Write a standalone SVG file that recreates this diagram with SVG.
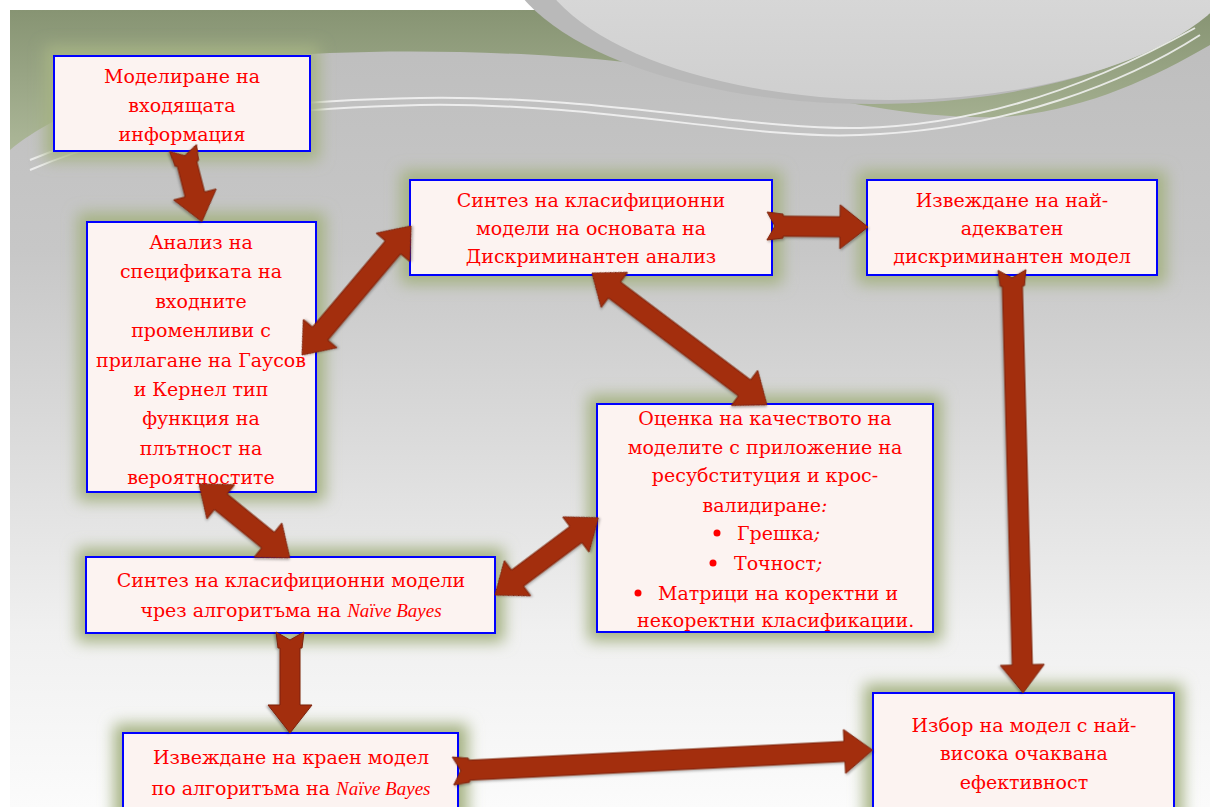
<svg xmlns="http://www.w3.org/2000/svg" width="1210" height="807" viewBox="0 0 1210 807">
  <defs>
    <linearGradient id="bgGrad" x1="0" y1="0" x2="0" y2="1">
      <stop offset="0" stop-color="#bdbdbd"/>
      <stop offset="0.3" stop-color="#c7c7c7"/>
      <stop offset="0.55" stop-color="#dcdcdc"/>
      <stop offset="0.78" stop-color="#f0f0f0"/>
      <stop offset="1" stop-color="#fbfbfb"/>
    </linearGradient>
    <linearGradient id="greenGrad" x1="0" y1="0" x2="0" y2="1">
      <stop offset="0" stop-color="#879473"/>
      <stop offset="1" stop-color="#acb798"/>
    </linearGradient>
    <linearGradient id="circleGrad" x1="0" y1="0" x2="0" y2="1">
      <stop offset="0" stop-color="#e8e8e8"/>
      <stop offset="1" stop-color="#cfcfcf"/>
    </linearGradient>
    <filter id="glow" x="-30%" y="-30%" width="160%" height="160%">
      <feGaussianBlur stdDeviation="7.5"/>
    </filter>
    <filter id="shadow" x="-10%" y="-10%" width="120%" height="120%">
      <feDropShadow dx="1" dy="1.5" stdDeviation="1.2" flood-color="#000" flood-opacity="0.3"/>
    </filter>
    <style>
      .glow { fill: #a5b283; filter: url(#glow); }
      .box { fill: #fcf3f1; stroke: #0000ff; stroke-width: 2; }
      .lbl { font-family: "DejaVu Serif", "Liberation Serif", serif; font-size: 19px; fill: #ff0000; text-anchor: middle; }
      .lft { text-anchor: start; }
      .nb { font-family: "Liberation Serif", serif; font-style: italic; font-size: 19px; }
      .arrow { fill: #a32f10; stroke: #7d2209; stroke-width: 1; filter: url(#shadow); }
      .swoosh { fill: none; stroke: #f4f4f4; stroke-width: 2; opacity: 0.85; }
    </style>
  </defs>

  <!-- page background -->
  <rect x="0" y="0" width="1210" height="807" fill="#ffffff"/>
  <rect x="10" y="10" width="1200" height="797" fill="url(#bgGrad)"/>
  <!-- green band across the top -->
  <path d="M10,10 L1210,10 L1210,45 C1150,80 1080,112 1000,117 C900,120 800,92 700,72 C600,55 450,48 330,53 C200,58 70,100 10,150 Z" fill="url(#greenGrad)"/>
  <!-- pale disc in the upper right -->
  <ellipse cx="872" cy="-58" rx="372" ry="162" fill="#b9b9b9"/>
  <ellipse cx="890" cy="-60" rx="360" ry="160" fill="url(#circleGrad)"/>
  <!-- thin white swooshes -->
  <path class="swoosh" d="M30,160 C150,110 300,100 420,98 C600,95 750,130 860,128 C1000,125 1120,70 1195,28"/>
  <path class="swoosh" d="M30,170 C150,118 300,108 420,105 C600,102 750,140 860,135 C1010,130 1130,80 1200,35"/>

  <!-- box glows -->
  <g id="glows">
    <rect class="glow" x="45" y="46" width="274" height="114"/>
    <rect class="glow" x="78" y="213" width="247" height="288"/>
    <rect class="glow" x="401" y="171" width="381" height="113"/>
    <rect class="glow" x="858" y="171" width="308" height="113"/>
    <rect class="glow" x="588" y="395" width="354" height="246"/>
    <rect class="glow" x="77" y="548" width="427" height="94"/>
    <rect class="glow" x="114" y="724" width="354" height="100"/>
    <rect class="glow" x="864" y="684" width="319" height="140"/>
  </g>

  <g id="n1">
    <rect class="box" x="54" y="56" width="256" height="95"/>
    <text class="lbl" x="182" y="83">Моделиране на</text>
    <text class="lbl" x="182" y="112">входящата</text>
    <text class="lbl" x="182" y="141">информация</text>
  </g>

  <g id="n2">
    <rect class="box" x="87" y="222" width="229" height="270"/>
    <text class="lbl" x="201" y="249">Анализ на</text>
    <text class="lbl" x="201" y="278">спецификата на</text>
    <text class="lbl" x="201" y="308">входните</text>
    <text class="lbl" x="201" y="337">променливи с</text>
    <text class="lbl" x="201" y="367">прилагане на Гаусов</text>
    <text class="lbl" x="201" y="396">и Кернел тип</text>
    <text class="lbl" x="201" y="425">функция на</text>
    <text class="lbl" x="201" y="455">плътност на</text>
    <text class="lbl" x="201" y="484">вероятностите</text>
  </g>

  <g id="n3">
    <rect class="box" x="410" y="180" width="362" height="95"/>
    <text class="lbl" x="591" y="207">Синтез на класифиционни</text>
    <text class="lbl" x="591" y="235">модели на основата на</text>
    <text class="lbl" x="591" y="263">Дискриминантен анализ</text>
  </g>

  <g id="n4">
    <rect class="box" x="867" y="180" width="290" height="95"/>
    <text class="lbl" x="1012" y="207">Извеждане на най-</text>
    <text class="lbl" x="1012" y="235">адекватен</text>
    <text class="lbl" x="1012" y="263">дискриминантен модел</text>
  </g>

  <g id="n5">
    <rect class="box" x="597" y="404" width="336" height="228"/>
    <text class="lbl" x="765" y="425">Оценка на качеството на</text>
    <text class="lbl" x="765" y="454">моделите с приложение на</text>
    <text class="lbl" x="765" y="482">ресубституция и крос-</text>
    <text class="lbl" x="765" y="512">валидиране<tspan font-style="italic">:</tspan></text>
    <circle cx="717" cy="533" r="3.5" fill="#ff0000"/>
    <text class="lbl lft" x="737" y="540">Грешка<tspan font-style="italic">;</tspan></text>
    <circle cx="713" cy="563" r="3.5" fill="#ff0000"/>
    <text class="lbl lft" x="734" y="570">Точност<tspan font-style="italic">;</tspan></text>
    <circle cx="638" cy="593" r="3.5" fill="#ff0000"/>
    <text class="lbl lft" x="658" y="600">Матрици на коректни и</text>
    <text class="lbl lft" x="637" y="627">некоректни класификации.</text>
  </g>

  <g id="n6">
    <rect class="box" x="86" y="557" width="409" height="76"/>
    <text class="lbl" x="291" y="587">Синтез на класифиционни модели</text>
    <text class="lbl" x="291" y="617">чрез алгоритъма на <tspan class="nb">Naïve Bayes</tspan></text>
  </g>

  <g id="n7">
    <rect class="box" x="123" y="733" width="335" height="90"/>
    <text class="lbl" x="291" y="764">Извеждане на краен модел</text>
    <text class="lbl" x="291" y="795">по алгоритъма на <tspan class="nb">Naïve Bayes</tspan></text>
  </g>

  <g id="n8">
    <rect class="box" x="873" y="693" width="301" height="130"/>
    <text class="lbl" x="1024" y="732">Избор на модел с най-</text>
    <text class="lbl" x="1024" y="760">висока очаквана</text>
    <text class="lbl" x="1024" y="789">ефективност</text>
  </g>

  <!-- block arrows, drawn along +x then placed -->
  <g id="connectors">
    <path class="arrow" transform="translate(183,148) rotate(75.6)" d="M0,-14 L16,-12 L16,-10 L48,-10 L48,-22 L76,0 L48,22 L48,10 L16,10 L16,12 L0,14 L8,0 Z"/>
    <path class="arrow" transform="translate(302,355) rotate(-49.8)" d="M0,0 L28,-22 L28,-10 L141,-10 L141,-22 L169,0 L141,22 L141,10 L28,10 L28,22 Z"/>
    <path class="arrow" transform="translate(592,273) rotate(37)" d="M0,0 L28,-22 L28,-10 L191,-10 L191,-22 L219,0 L191,22 L191,10 L28,10 L28,22 Z"/>
    <path class="arrow" transform="translate(767,226) rotate(0.6)" d="M0,-14 L16,-12 L16,-10 L73,-10 L73,-22 L101,0 L73,22 L73,10 L16,10 L16,12 L0,14 L8,0 Z"/>
    <path class="arrow" transform="translate(1012,270) rotate(88.5)" d="M0,-14 L16,-12 L16,-10 L395,-10 L395,-22 L423,0 L395,22 L395,10 L16,10 L16,12 L0,14 L8,0 Z"/>
    <path class="arrow" transform="translate(199,484) rotate(39.1)" d="M0,0 L28,-22 L28,-10 L89,-10 L89,-22 L117,0 L89,22 L89,10 L28,10 L28,22 Z"/>
    <path class="arrow" transform="translate(495,595) rotate(-36.8)" d="M0,0 L28,-22 L28,-10 L101,-10 L101,-22 L129,0 L101,22 L101,10 L28,10 L28,22 Z"/>
    <path class="arrow" transform="translate(290,632) rotate(90)" d="M0,-14 L16,-12 L16,-10 L73,-10 L73,-22 L101,0 L73,22 L73,10 L16,10 L16,12 L0,14 L8,0 Z"/>
    <path class="arrow" transform="translate(453,771) rotate(-2.86)" d="M0,-14 L16,-12 L16,-10 L392,-10 L392,-22 L420,0 L392,22 L392,10 L16,10 L16,12 L0,14 L8,0 Z"/>
  </g>
</svg>
